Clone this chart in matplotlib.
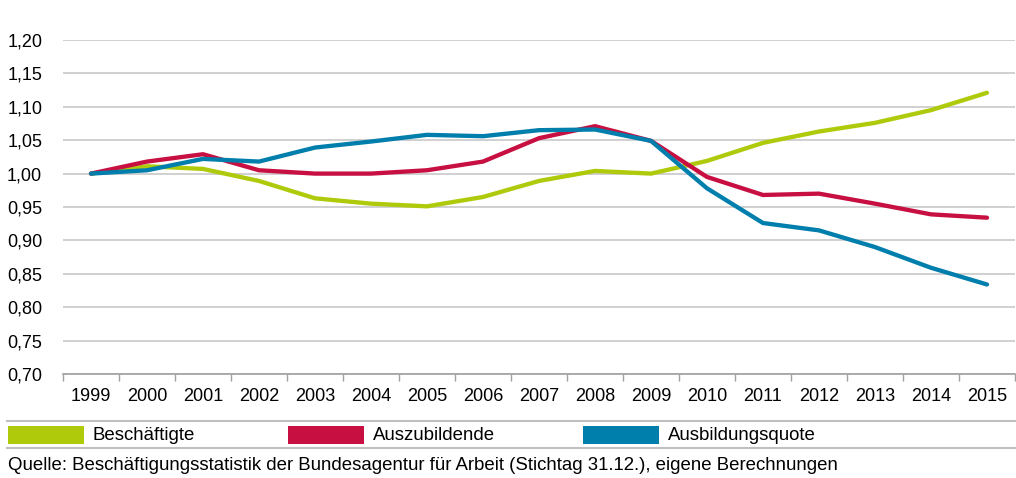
import numpy as np
import matplotlib.pyplot as plt
from matplotlib.patches import Rectangle
from matplotlib.lines import Line2D
from matplotlib.ticker import FuncFormatter, FixedLocator

plt.rcParams['font.family'] = ['Liberation Sans', 'DejaVu Sans']

# Data (index, 1999 = 1)
years = list(range(1999, 2016))
beschaeftigte = [1.000, 1.011, 1.007, 0.989, 0.963, 0.955, 0.951, 0.965, 0.989,
                 1.004, 1.000, 1.019, 1.046, 1.063, 1.076, 1.095, 1.121]
auszubildende = [1.000, 1.018, 1.029, 1.005, 1.000, 1.000, 1.005, 1.018, 1.053,
                 1.071, 1.049, 0.995, 0.968, 0.970, 0.955, 0.939, 0.934]
quote = [1.000, 1.005, 1.022, 1.018, 1.039, 1.048, 1.058, 1.056, 1.065,
         1.066, 1.049, 0.978, 0.926, 0.915, 0.890, 0.859, 0.834]

series_names = ['Beschäftigte', 'Auszubildende', 'Ausbildungsquote']
colors = ['#afca0b', '#c70f41', '#007eac']
source = 'Quelle: Beschäftigungsstatistik der Bundesagentur für Arbeit (Stichtag 31.12.), eigene Berechnungen'

fig = plt.figure(figsize=(10.16, 4.78), dpi=100)
ax = fig.add_axes([63/1016, 1 - 374/478, (1015 - 63)/1016, (374 - 40)/478])

x = np.arange(len(years))
for vals, c in zip([beschaeftigte, auszubildende, quote], colors):
    ax.plot(x, vals, color=c, lw=3.1, solid_capstyle='round', solid_joinstyle='round', zorder=3)

ax.set_xlim(-0.5, len(years) - 0.5)
ax.set_ylim(0.70, 1.20)
ax.set_yticks(np.arange(0.70, 1.201, 0.05))
ax.yaxis.set_major_formatter(FuncFormatter(lambda v, p: f'{v:.2f}'.replace('.', ',')))
ax.grid(axis='y', color='#c8c8c8', lw=1.2)
ax.set_axisbelow(True)

ax.set_xticks(x)
ax.set_xticklabels([str(y) for y in years])
ax.xaxis.set_minor_locator(FixedLocator(np.arange(-0.5, len(years), 1)))
ax.tick_params(axis='x', which='major', length=0, pad=10, labelsize=13)
ax.tick_params(axis='x', which='minor', length=5, color='#a0a0a0', width=1)
ax.tick_params(axis='y', length=0, pad=15, labelsize=13)

for s in ['top', 'right', 'left']:
    ax.spines[s].set_visible(False)
ax.spines['bottom'].set_color('#a0a0a0')
ax.spines['bottom'].set_linewidth(1.2)

# legend band
W, H = 1016, 478
for yy in [421, 448]:
    fig.add_artist(Line2D([7/W, 1], [1 - yy/H, 1 - yy/H], color='#c0c0c0', lw=1.5))
for name, c, x0 in zip(series_names, colors, [8, 288, 583]):
    fig.add_artist(Rectangle((x0/W, 1 - 444/H), 76/W, 18/H, color=c, lw=0))
    fig.text((x0 + 85)/W, 1 - 435/H, name, fontsize=13.4, va='center', ha='left')

fig.text(8/W, 1 - 465/H, source, fontsize=13.4, va='center', ha='left')

fig.savefig('out.png', dpi=100)
